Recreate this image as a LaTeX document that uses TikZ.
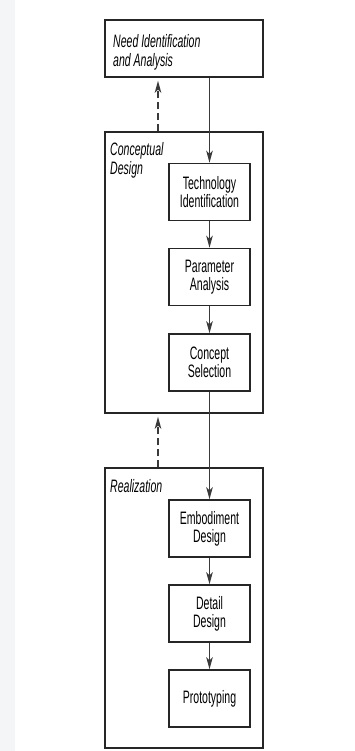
\documentclass[tikz,border=0pt]{standalone}
\usepackage{fontspec}
\setmainfont{Liberation Sans}[FakeStretch=0.585]
\usetikzlibrary{arrows.meta}
\definecolor{ink}{HTML}{262626}
\definecolor{arr}{HTML}{3A3A3A}
\definecolor{edge}{HTML}{F3F5F7}
\begin{document}
\begin{tikzpicture}[x=1pt,y=-1pt,
  outerbox/.style={draw=ink,line width=1.5pt,inner sep=0pt,minimum width=158pt},
  stepbox/.style={draw=ink,line width=1.5pt,inner sep=0pt,minimum width=81pt,minimum height=57pt,align=center,font=\fontsize{18}{18}\selectfont},
  grouplabel/.style={anchor=north west,inner sep=0pt,align=left,font=\fontsize{18}{19}\selectfont\itshape},
  flow/.style={draw=arr,line width=1.4pt,-{Stealth[length=12pt,width=6.5pt,inset=3pt]}},
  back/.style={draw=arr,line width=1.4pt,dash pattern=on 7pt off 4pt,-{Stealth[length=12pt,width=6.5pt,inset=3pt]},shorten >=3pt}]
\useasboundingbox (0,0) rectangle (355,751);
\fill[white] (0,0) rectangle (355,751);
\fill[edge] (0,0) rectangle (15,751);
% outer boxes
\node[outerbox,minimum height=57pt] (need) at (184,48.5) {};
\node[outerbox,minimum height=281pt] (concept) at (184,272.5) {};
\node[outerbox,minimum height=280pt] (real) at (184,608) {};
% labels
\node[grouplabel] (needlbl) at (113,34) {Need Identification\\and Analysis};
\node[grouplabel] (conlbl) at (110,142) {Conceptual\\Design};
\node[grouplabel] (reallbl) at (110,479) {Realization};
% step boxes
\node[stepbox] (tech) at (209.5,192) {Technology\\Identification};
\node[stepbox] (param) at (209.5,277) {Parameter\\Analysis};
\node[stepbox] (csel) at (209.5,362.5) {Concept\\Selection};
\node[stepbox] (emb) at (209.5,528.5) {Embodiment\\Design};
\node[stepbox] (det) at (209.5,613.5) {Detail\\Design};
\node[stepbox] (proto) at (209.5,698.5) {Prototyping};
% connectors
\draw[flow] (need.south -| tech.north) -- (tech.north);
\draw[flow] (tech) -- (param);
\draw[flow] (param) -- (csel);
\draw[flow] (csel) -- (emb);
\draw[flow] (emb) -- (det);
\draw[flow] (det) -- (proto);
\coordinate (dx) at (158,0);
\draw[back] (concept.north -| dx) -- (need.south -| dx);
\draw[back] (real.north -| dx) -- (concept.south -| dx);
\end{tikzpicture}
\end{document}
